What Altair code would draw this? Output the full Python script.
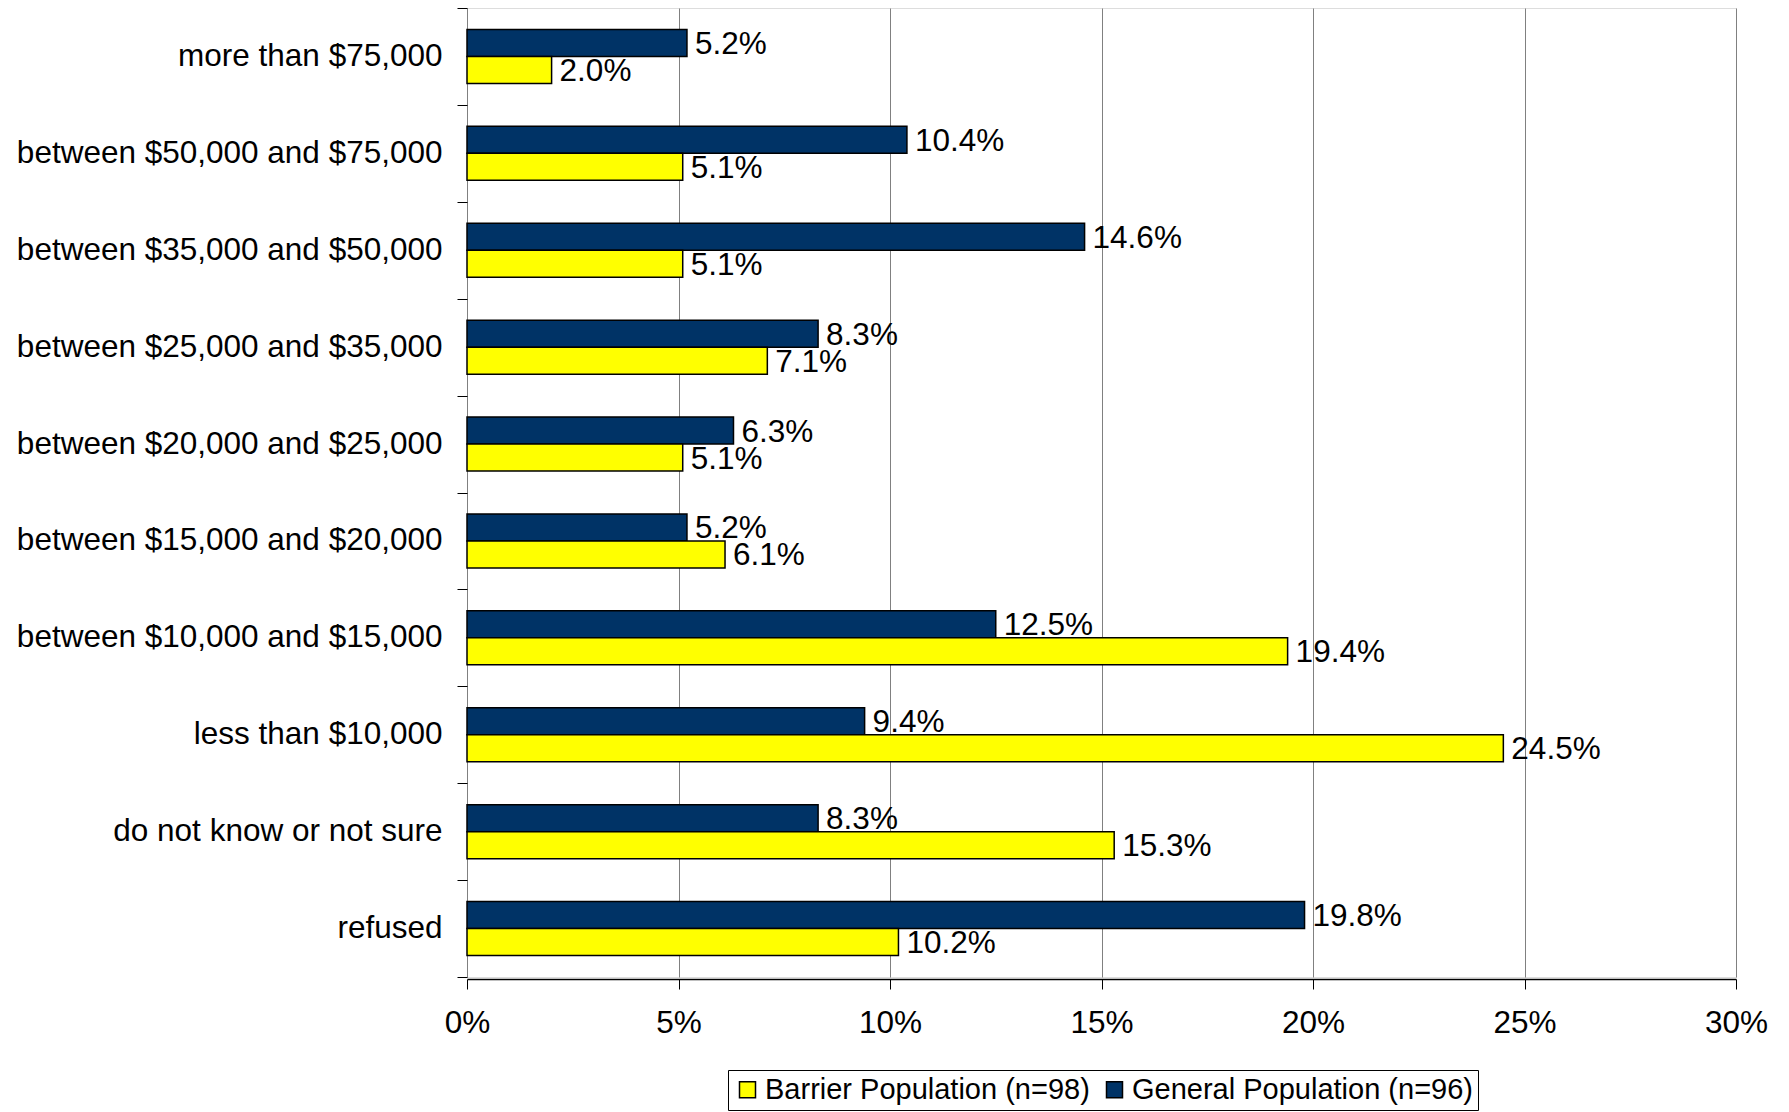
import altair as alt
import pandas as pd

categories = [
    "more than $75,000",
    "between $50,000 and $75,000",
    "between $35,000 and $50,000",
    "between $25,000 and $35,000",
    "between $20,000 and $25,000",
    "between $15,000 and $20,000",
    "between $10,000 and $15,000",
    "less than $10,000",
    "do not know or not sure",
    "refused",
]
general = [5.2, 10.4, 14.6, 8.3, 6.3, 5.2, 12.5, 9.4, 8.3, 19.8]
barrier = [2.0, 5.1, 5.1, 7.1, 5.1, 6.1, 19.4, 24.5, 15.3, 10.2]
series_names = ["Barrier Population (n=98)", "General Population (n=96)"]
series_colors = ["#FFFF00", "#003366"]
x_ticks = [0, 5, 10, 15, 20, 25, 30]

rows = []
for c, g, b in zip(categories, general, barrier):
    rows.append({"cat": c, "series": series_names[1], "value": g})
    rows.append({"cat": c, "series": series_names[0], "value": b})
df = pd.DataFrame(rows)
df["label"] = df["value"].map(lambda v: f"{v:.1f}%")

FONT = "Liberation Sans"
FS = 31.5

base = alt.Chart(df).encode(
    y=alt.Y(
        "cat:N",
        sort=categories,
        title=None,
        scale=alt.Scale(paddingInner=0, paddingOuter=0),
        axis=alt.Axis(
            tickBand="extent",
            tickSize=10,
            tickColor="#000000",
            tickWidth=1,
            domain=False,
            labelFontSize=FS,
            labelFont=FONT,
            labelColor="#000000",
            labelPadding=15,
            labelLimit=700,
            grid=False,
        ),
    ),
    yOffset=alt.YOffset("series:N", sort=[series_names[1], series_names[0]],
                        scale=alt.Scale(paddingInner=0, paddingOuter=0.795)),
)

bars = base.mark_bar(stroke="#000000", strokeWidth=1.5).encode(
    x=alt.X(
        "value:Q",
        title=None,
        scale=alt.Scale(domain=[0, 30], nice=False),
        axis=alt.Axis(
            values=x_ticks,
            labelExpr="datum.value + '%'",
            labelFontSize=FS,
            labelFont=FONT,
            labelColor="#000000",
            labelPadding=18,
            labelFlush=False,
            tickSize=10,
            tickColor="#000000",
            domainColor="#000000",
            domainWidth=1.5,
            offset=2,
            grid=True,
            gridColor="#808080",
            gridWidth=1,
        ),
    ),
    color=alt.Color(
        "series:N",
        scale=alt.Scale(domain=series_names, range=series_colors),
        title=None,
        legend=alt.Legend(
            orient="none",
            legendX=261,
            legendY=1062,
            direction="horizontal",
            symbolType="square",
            symbolSize=256,
            symbolStrokeColor="#000000",
            symbolStrokeWidth=1.5,
            labelFontSize=29,
            labelFont=FONT,
            labelColor="#000000",
            labelOffset=3,
            columnPadding=10,
            strokeColor="#000000",
            padding=5,
            labelLimit=700,
        ),
    ),
)

texts = base.mark_text(
    align="left", baseline="middle", dx=8, dy=2, fontSize=FS, font=FONT, color="#000000"
).encode(
    x=alt.X("value:Q"),
    text="label:N",
)

chart = (
    alt.layer(bars, texts)
    .properties(
        width=1269,
        height=969,
        autosize=alt.AutoSizeParams(type="none"),
        padding={"left": 459, "top": 0, "right": 40, "bottom": 138},
    )
    .configure_view(stroke="#808080", strokeWidth=2.5)
    .configure(background="#ffffff")
)

chart.save("out.html", embed_options={"renderer": "svg", "actions": False})
